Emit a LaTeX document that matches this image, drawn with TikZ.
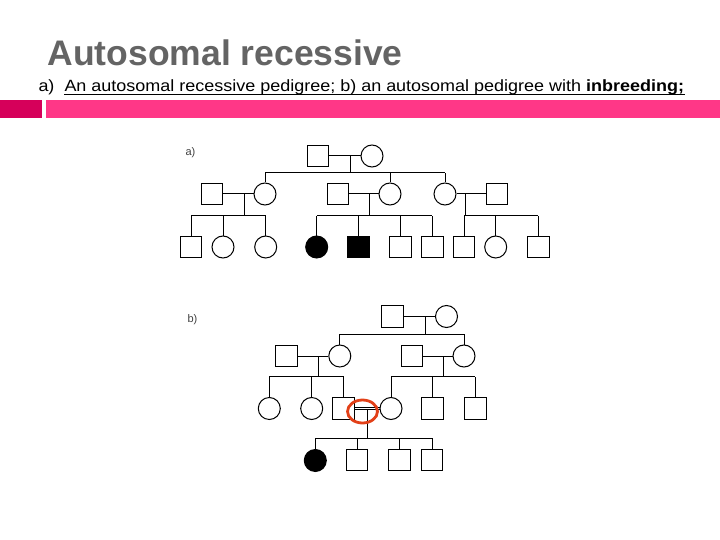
\documentclass[tikz,border=0pt]{standalone}
\usepackage{fontspec}
\usetikzlibrary{shapes.geometric}
\setmainfont{Liberation Sans}
\definecolor{titlegray}{RGB}{100,100,100}
\definecolor{barleft}{RGB}{214,0,90}
\definecolor{barright}{RGB}{255,55,135}
\definecolor{ringred}{RGB}{226,64,24}
\begin{document}
\begin{tikzpicture}[x=1pt,y=-1pt,
  line width=1pt,
  sq/.style={draw, rectangle, minimum size=21.5pt, inner sep=0pt, fill=white},
  ci/.style={draw, circle, minimum size=22pt, inner sep=0pt, fill=white},
  aff/.style={fill=black},
  lbl/.style={inner sep=0pt, font=\fontsize{11}{12}\selectfont, text=black!75}]
\useasboundingbox (0,0) rectangle (720,540);
% header
\node[anchor=base west, inner sep=0pt, text=titlegray, font=\fontsize{35.5}{40}\selectfont\bfseries] (title) at (47,66) {Autosomal recessive};
\node[anchor=base west, inner sep=0pt, font=\fontsize{16.3}{18}\selectfont] (sa) at (38,92) {\scalebox{1.1}[1]{a)}};
\node[anchor=base west, inner sep=0pt, font=\fontsize{16.3}{18}\selectfont] (sub) at (64,92) {\scalebox{1.103}[1]{An autosomal recessive pedigree; b) an autosomal pedigree with \textbf{inbreeding;}}};
\draw[line width=1.6pt] ([yshift=-2.5pt]sub.base west) -- ([yshift=-2.5pt]sub.base east);
\fill[barleft] (0,100) rectangle (42,118);
\fill[barright] (46,100) rectangle (720,118);
% ---------- pedigree a ----------
\node[lbl, anchor=west] (la) at (185,153) {a)};
\node[sq] (a1) at (318,156) {};
\node[ci] (a2) at (372,156) {};
\node[sq] (b1) at (212,194) {};
\node[ci] (b2) at (265,194) {};
\node[sq] (b3) at (338,194) {};
\node[ci] (b4) at (390,194) {};
\node[ci] (b5) at (445,194) {};
\node[sq] (b6) at (497,194) {};
\node[sq] (c1) at (191,247) {};
\node[ci] (c2) at (223,247) {};
\node[ci] (c3) at (265.7,247) {};
\node[ci,aff] (c4) at (316.7,247) {};
\node[sq,aff] (c5) at (358.3,247) {};
\node[sq] (c6) at (400.7,247) {};
\node[sq] (c7) at (432.3,247) {};
\node[sq] (c8) at (464,247) {};
\node[ci] (c9) at (495.7,247) {};
\node[sq] (c10) at (538.3,247) {};
\coordinate (ma) at (350,156);
\coordinate (sa1) at (350,172.7);
\coordinate (mb1) at (244,194);
\coordinate (sb1) at (244,216);
\coordinate (mb2) at (369,194);
\coordinate (sb2) at (369,216);
\coordinate (mb3) at (465.7,194);
\coordinate (sb3) at (465.7,216);
\draw (a1) -- (a2);
\draw (ma) -- (sa1);
\draw (b2.north |- sa1) -- (b5.north |- sa1);
\foreach \n in {b2,b4,b5} \draw (\n.north) -- (\n.north |- sa1);
\draw (b1) -- (b2);
\draw (b3) -- (b4);
\draw (b5) -- (b6);
\draw (mb1) -- (sb1);
\draw (mb2) -- (sb2);
\draw (mb3) -- (sb3);
\draw (c1.north |- sb1) -- (c3.north |- sb1);
\draw (c4.north |- sb2) -- (c7.north |- sb2);
\draw (c8.north |- sb3) -- (c10.north |- sb3);
\foreach \n in {c1,c2,c3,c4,c5,c6,c7,c8,c9,c10} \draw (\n.north) -- (\n.north |- sb1);
% ---------- pedigree b ----------
\node[lbl, anchor=west] (lb) at (187,320) {b)};
\node[sq] (p1) at (392.5,316.5) {};
\node[ci] (p2) at (446.5,316.5) {};
\node[sq] (q1) at (286.7,356) {};
\node[ci] (q2) at (339.8,356) {};
\node[sq] (q3) at (412,356) {};
\node[ci] (q4) at (464,356) {};
\node[ci] (r1) at (269.3,408.5) {};
\node[ci] (r2) at (311.7,408.5) {};
\node[sq] (r3) at (343.5,408.5) {};
\node[ci] (r4) at (391,408.5) {};
\node[sq] (r5) at (432.3,408.5) {};
\node[sq] (r6) at (475.3,408.5) {};
\node[ci,aff] (t1) at (315.3,460.5) {};
\node[sq] (t2) at (357.2,460) {};
\node[sq] (t3) at (399.5,460) {};
\node[sq] (t4) at (432.2,460) {};
\coordinate (mp) at (425.3,316.5);
\coordinate (sp) at (425.3,334.3);
\coordinate (mq1) at (318.3,356);
\coordinate (sq1) at (318.3,376.7);
\coordinate (mq2) at (443.3,356);
\coordinate (sq2) at (443.3,376.7);
\coordinate (mr) at (367.7,410.3);
\coordinate (sr) at (367.7,438.3);
\draw (p1) -- (p2);
\draw (mp) -- (sp);
\draw (q2.north |- sp) -- (q4.north |- sp);
\foreach \n in {q2,q4} \draw (\n.north) -- (\n.north |- sp);
\draw (q1) -- (q2);
\draw (q3) -- (q4);
\draw (mq1) -- (sq1);
\draw (mq2) -- (sq2);
\draw (r1.north |- sq1) -- (r3.north |- sq1);
\draw (r4.north |- sq2) -- (r6.north |- sq2);
\foreach \n in {r1,r2,r3,r4,r5,r6} \draw (\n.north) -- (\n.north |- sq1);
\draw ([yshift=-1.4pt]r3.east) -- ([yshift=-1.4pt]r4.west);
\draw ([yshift=1.4pt]r3.east) -- ([yshift=1.4pt]r4.west);
\draw (mr) -- (sr);
\draw (t1.north |- sr) -- (t4.north |- sr);
\foreach \n in {t1,t2,t3,t4} \draw (\n.north) -- (\n.north |- sr);
\node[draw=ringred, line width=2.8pt, ellipse, minimum width=30pt, minimum height=23pt, inner sep=0pt] (ring) at (362.5,411.5) {};
\end{tikzpicture}
\end{document}
